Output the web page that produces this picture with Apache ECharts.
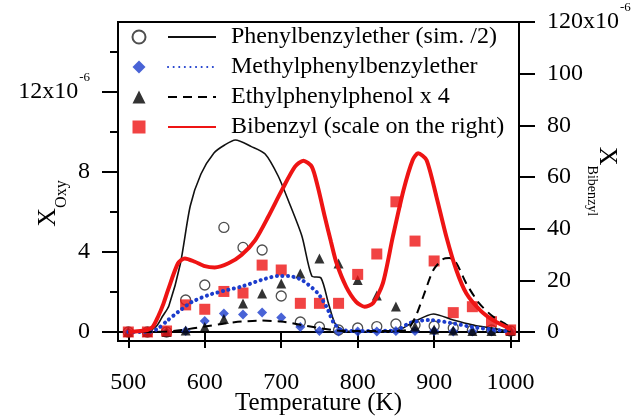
<!DOCTYPE html>
<html><head><meta charset="utf-8">
<script src="https://cdn.jsdelivr.net/npm/echarts@6/dist/echarts.min.js"></script>
<style>html,body{margin:0;padding:0;background:#fff}#c{width:632px;height:419px}</style>
</head><body><div id="c"></div>
<script>
// ---- data ----
const expT = [500,525,550,575,600,625,650,675,700,725,750,775,800,825,850,875,900,925,950,975,1000];
const pbeExp  = [0,0,0,1.6,2.35,5.23,4.23,4.1,1.8,0.5,0.25,0.1,0.2,0.27,0.4,0.35,0.3,0.2,0.1,0.1,0.05];
const mpbeExp = [0,0,0,0.05,0.55,0.93,0.88,0.97,0.72,0.25,0.05,0.02,0.02,0.02,0.05,0.05,0.05,0.02,0.02,0.02,0.02];
const eppExp  = [0,0,0,0.08,0.25,0.65,1.43,1.92,2.42,2.93,3.68,3.43,2.6,1.82,1.27,0.28,0.12,0.08,0.05,0.05,0.05];
const bbExp   = [0,0,0.4,10.5,8.8,15.7,15.1,25.9,24,11.1,11.1,11.1,22.3,30.2,50.4,35.2,27.5,7.5,9.8,4,0.8];

const pbeSim = [[500,0],[525,0.02],[537,0.3],[545,0.8],[553,1.3],[568,3.4],[581,6.3],[595,7.9],[612,8.95],[626,9.35],[640,9.6],[661,9.27],[679,8.9],[696,7.8],[709,6.6],[727,4.8],[740,2.8],[752,2.7],[762,1.4],[770,0.45],[780,0.1],[800,0.02],[850,0.05],[873,0.5],[899,0.9],[925,0.6],[951,0.35],[977,0.18],[1000,0.02]];
const mpbeSim = [[500,0],[530,0.02],[539,0.18],[552,0.6],[565,1.0],[583,1.5],[605,1.85],[626,2.07],[648,2.27],[674,2.6],[696,2.8],[709,2.8],[727,2.6],[748,1.93],[760,1.2],[768,0.5],[778,0.12],[800,0.05],[850,0.08],[868,0.45],[894,0.6],[925,0.43],[950,0.25],[977,0.12],[1000,0.02]];
const eppSim = [[500,0],[550,0.02],[570,0.1],[600,0.27],[626,0.43],[648,0.52],[674,0.57],[700,0.52],[727,0.35],[753,0.18],[780,0.05],[850,0.05],[865,0.12],[875,0.7],[886,1.8],[899,3.1],[912,3.65],[920,3.7],[929,3.45],[942,2.43],[959,1.43],[977,0.77],[995,0.35],[1000,0.2]];
const bbSim = [[500,0],[525,0.8],[532,2],[539,6],[546,11],[552,16.3],[565,26.6],[574,28.5],[587,27.2],[600,25.5],[613,25],[631,26.6],[648,29.8],[666,35.6],[683,44.6],[701,55],[718,64],[729,66.3],[740,64],[748,56],[757,44.6],[765,35],[772,27],[785,17.5],[798,11.7],[809,9.8],[820,11.1],[833,18.9],[846,36.9],[860,55],[872,66.6],[879,69.2],[890,66.6],[903,52.4],[916,36.9],[929,24],[942,15],[960,8.5],[977,4.6],[994,2],[1000,1]];

const xTicks = [500,600,700,800,900,1000];
const leftTicks = [0,4,8,12];
const leftMinorTicks = [2,6,10,14];
const rightTicks = [0,20,40,60,80,100,120];

const lineNames = ['Phenylbenzylether (sim. /2)','Methylphenylbenzylether','Ethylphenylphenol x 4','Bibenzyl (scale on the right)'];
const expNames = ['PBE exp','MPBE exp','EPP exp','BB exp'];

// ---- chart ----
const FONT = 'Liberation Serif';
const RED = '#ee1414', BLUE = '#1c3ccc', BLACK = '#000';
const pair = arr => expT.map((t,i)=>[t,arr[i]]);
const supRich = {sup:{fontSize:13, fontFamily:FONT, color:BLACK, padding:[0,0,28,1], lineHeight:13}};
const hideSym = {color:'transparent', borderColor:'transparent', borderWidth:0};

const chart = echarts.init(document.getElementById('c'), null, {renderer:'canvas'});
chart.setOption({
  animation:false,
  backgroundColor:'#fff',
  textStyle:{fontFamily:FONT, color:BLACK},
  grid:{left:118, right:113, top:22, bottom:78, show:true, borderColor:BLACK, borderWidth:2,
        containLabel:false, outerBoundsMode:'none'},
  legend:[
    {data:expNames, orient:'vertical', left:131.5, top:22, itemWidth:13, itemHeight:13, itemGap:0, padding:0,
     formatter:()=>' ', textStyle:{fontSize:24, lineHeight:30, fontFamily:FONT}, selectedMode:false},
    {data:lineNames.map(n=>({name:n, itemStyle:hideSym})), orient:'vertical', left:167, top:22, itemWidth:48, itemHeight:13, itemGap:0, padding:0,
     textStyle:{fontSize:24, lineHeight:30, fontFamily:FONT, color:BLACK, padding:[0,0,0,10]}, selectedMode:false}
  ],
  xAxis:{type:'value', min:486.5, max:1011,
    axisLine:{show:true, lineStyle:{color:BLACK, width:2}},
    axisTick:{show:true, customValues:xTicks, length:16, lineStyle:{color:BLACK, width:2}},
    axisLabel:{customValues:xTicks, margin:30, fontSize:24, color:BLACK, fontFamily:FONT, formatter:v=>String(v)},
    splitLine:{show:false},
    name:'Temperature (K)', nameLocation:'middle', nameGap:50, nameMoveOverlap:false,
    nameTextStyle:{fontSize:25, color:BLACK, fontFamily:FONT}},
  yAxis:[
    {type:'value', position:'left', min:-0.45, max:15.5,
     axisLine:{show:true, lineStyle:{color:BLACK, width:2}},
     axisTick:{show:true, customValues:leftTicks, length:16, lineStyle:{color:BLACK, width:2}},
     axisLabel:{customValues:leftTicks, margin:28, fontSize:24, color:BLACK, fontFamily:FONT, rich:supRich,
       formatter:v => v===12 ? '12x10{sup|-6}' : String(v)},
     splitLine:{show:false},
     name:'{x|X}{s|Oxy}', nameLocation:'middle', nameRotate:90, nameGap:48, nameMoveOverlap:false,
     nameTextStyle:{color:BLACK, padding:[0,44,0,0], rich:{
       x:{fontSize:26, lineHeight:44, fontFamily:FONT, color:BLACK},
       s:{fontSize:16, lineHeight:16, verticalAlign:'bottom', fontFamily:FONT, color:BLACK}}}},
    {type:'value', position:'right', min:-3.48, max:120,
     axisLine:{show:true, lineStyle:{color:BLACK, width:2}},
     axisTick:{show:true, customValues:rightTicks, length:16, lineStyle:{color:BLACK, width:2}},
     axisLabel:{customValues:rightTicks, margin:28, fontSize:24, color:BLACK, fontFamily:FONT, rich:supRich,
       formatter:v => v===120 ? '120x10{sup|-6}' : String(v)},
     splitLine:{show:false},
     name:'{x|X}{s|Bibenzyl}', nameLocation:'middle', nameRotate:-90, nameGap:66, nameMoveOverlap:false,
     nameTextStyle:{color:BLACK, rich:{
       x:{fontSize:26, lineHeight:44, fontFamily:FONT, color:BLACK},
       s:{fontSize:14, lineHeight:14, verticalAlign:'bottom', fontFamily:FONT, color:BLACK}}}},
    {type:'value', position:'left', offset:0, min:-0.45, max:15.5,
     axisLine:{show:false},
     axisTick:{show:true, customValues:leftMinorTicks, length:8, lineStyle:{color:BLACK, width:2}},
     axisLabel:{show:false}, splitLine:{show:false}}
  ],
  series:[
    {name:lineNames[0], type:'line', yAxisIndex:0, data:pbeSim, symbol:'none', smooth:0.25, silent:true,
     lineStyle:{color:'#111', width:1.6}, itemStyle:{color:'#111'}},
    {name:lineNames[1], type:'line', yAxisIndex:0, data:mpbeSim, symbol:'none', smooth:0.25, silent:true,
     lineStyle:{color:BLUE, width:4, type:[0.1,5.5], cap:'round'}, itemStyle:{color:BLUE}},
    {name:lineNames[2], type:'line', yAxisIndex:0, data:eppSim, symbol:'none', smooth:0.25, silent:true,
     lineStyle:{color:BLACK, width:2, type:[9,6]}, itemStyle:{color:BLACK}},
    {name:lineNames[3], type:'line', yAxisIndex:1, data:bbSim, symbol:'none', smooth:0.25, silent:true,
     lineStyle:{color:RED, width:4}, itemStyle:{color:RED}},
    {name:expNames[0], type:'scatter', yAxisIndex:0, data:pair(pbeExp), symbol:'circle', symbolSize:10, silent:true,
     itemStyle:{color:'#fff', borderColor:'#222', borderWidth:1.3}},
    {name:expNames[1], type:'scatter', yAxisIndex:0, data:pair(mpbeExp), symbol:'diamond', symbolSize:10, silent:true,
     itemStyle:{color:BLUE}},
    {name:expNames[2], type:'scatter', yAxisIndex:0, data:pair(eppExp), symbol:'triangle', symbolSize:10, silent:true,
     itemStyle:{color:BLACK}},
    {name:expNames[3], type:'scatter', yAxisIndex:1, data:pair(bbExp), symbol:'rect', symbolSize:11, silent:true,
     itemStyle:{color:RED}}
  ]
});
</script></body></html>
